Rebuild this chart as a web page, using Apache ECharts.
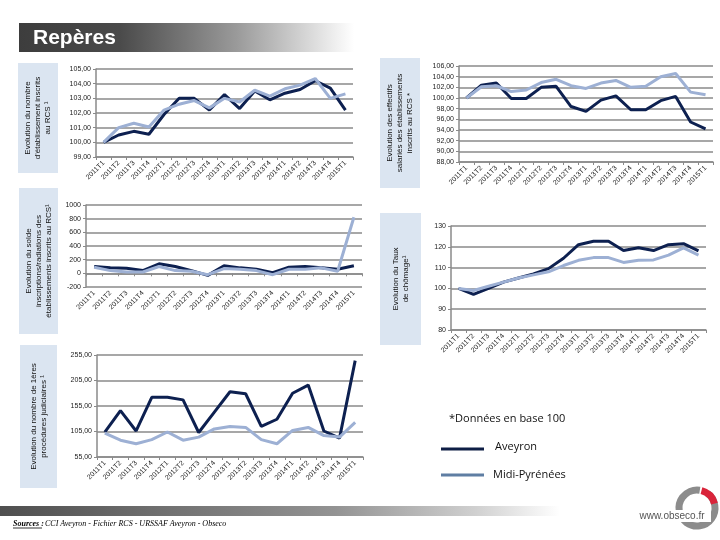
<!DOCTYPE html>
<html><head><meta charset="utf-8">
<script src="https://cdn.jsdelivr.net/npm/echarts@6/dist/echarts.min.js"></script>
<style>html,body{margin:0;padding:0;background:#fff}#c{width:720px;height:540px}</style>
</head><body><div id="c"></div>
<script>
var categories = ['2011T1','2011T2','2011T3','2011T4','2012T1','2012T2','2012T3','2012T4','2013T1','2013T2','2013T3','2013T4','2014T1','2014T2','2014T3','2014T4','2015T1'];

var etabAveyron = [100, 100.5, 100.75, 100.55, 101.9, 103.0, 103.0, 102.2, 103.25, 102.3, 103.5, 102.9, 103.35, 103.6, 104.2, 103.7, 102.2];
var etabMidi    = [100, 101.0, 101.3, 101.05, 102.2, 102.6, 102.85, 102.35, 103.0, 102.75, 103.55, 103.15, 103.65, 103.9, 104.35, 103.0, 103.3];

var effAveyron = [100, 102.4, 102.8, 99.9, 99.9, 102.0, 102.2, 98.4, 97.5, 99.6, 100.4, 97.8, 97.8, 99.5, 100.3, 95.5, 94.2];
var effMidi    = [100, 102.1, 102.3, 101.2, 101.5, 102.9, 103.5, 102.3, 101.8, 102.8, 103.3, 102.0, 102.2, 104.0, 104.6, 101.1, 100.6];

var soldeAveyron = [100, 80, 75, 40, 140, 100, 40, -30, 110, 80, 60, 10, 90, 100, 80, 60, 110];
var soldeMidi    = [90, 40, 20, 20, 100, 40, 30, -20, 70, 60, 40, -20, 60, 60, 80, 30, 820];

var chomAveyron = [100, 97.1, 100, 103, 105, 107, 109.5, 114.5, 121, 122.7, 122.7, 118.2, 119.5, 118.2, 121, 121.5, 118];
var chomMidi    = [100, 99, 101, 103, 105, 106.5, 108, 111, 113.5, 114.8, 114.8, 112.5, 113.5, 113.7, 116, 119.5, 116];

var procAveyron = [104, 146, 106, 172, 172, 167, 103, 143, 183, 179, 115, 129, 180, 196, 106, 92, 244];
var procMidi    = [102, 88, 81, 89, 104, 88, 94, 110, 115, 113, 89, 81, 107, 113, 97, 94, 123];

var yTicks1 = {min: 99, max: 105, interval: 1};
var yTicks2 = {min: 88, max: 106, interval: 2};
var yTicks3 = {min: -200, max: 1000, interval: 200};
var yTicks4 = {min: 80, max: 130, interval: 10};
var yTicks5 = {min: 55, max: 255, interval: 50};

var DARK = '#0d2050';
var LIGHT = '#9db0d4';
var GRIDC = '#8a8a8a';
var FONT = 'Liberation Sans';

var grids = [
  {left: 96, top: 69, width: 257, height: 88},
  {left: 459, top: 66, width: 254, height: 96},
  {left: 86, top: 205, width: 276, height: 82},
  {left: 451, top: 226, width: 255, height: 104},
  {left: 97, top: 355, width: 266, height: 102}
];
var yDefs = [yTicks1, yTicks2, yTicks3, yTicks4, yTicks5];
var fmt = [
  function(v){return v.toFixed(2).replace('.', ',');},
  function(v){return v.toFixed(2).replace('.', ',');},
  function(v){return String(v);},
  function(v){return String(v);},
  function(v){return v.toFixed(2).replace('.', ',');}
];
var data = [[etabAveyron, etabMidi],[effAveyron, effMidi],[soldeAveyron, soldeMidi],[chomAveyron, chomMidi],[procAveyron, procMidi]];

var xAxes = [], yAxes = [], series = [];
for (var i = 0; i < 5; i++) {
  xAxes.push({
    type: 'category', gridIndex: i, data: categories, boundaryGap: true,
    axisLine: {lineStyle: {color: GRIDC, width: 1.5}},
    axisTick: {show: true, length: 3, lineStyle: {color: GRIDC}},
    axisLabel: {rotate: 45, fontSize: 7, fontFamily: FONT, color: '#222', margin: 5, interval: 0}
  });
  yAxes.push({
    type: 'value', gridIndex: i, min: yDefs[i].min, max: yDefs[i].max, interval: yDefs[i].interval,
    axisLine: {show: true, lineStyle: {color: GRIDC, width: 1.5}},
    axisTick: {show: true, length: 3, lineStyle: {color: GRIDC}},
    splitLine: {show: true, lineStyle: {color: GRIDC, width: 1.5}},
    axisLabel: {fontSize: 7, fontFamily: FONT, color: '#222', margin: 5, formatter: fmt[i]}
  });
  series.push({type: 'line', xAxisIndex: i, yAxisIndex: i, data: data[i][0], symbol: 'none', lineStyle: {color: DARK, width: 3}, z: 3});
  series.push({type: 'line', xAxisIndex: i, yAxisIndex: i, data: data[i][1], symbol: 'none', lineStyle: {color: LIGHT, width: 3}, z: 4});
}

var BOX = '#dbe5f1';
function box(x, y, w, h, text) {
  return [
    {type: 'rect', shape: {x: x, y: y, width: w, height: h}, style: {fill: BOX}, z: 1},
    {type: 'text', x: x + w / 2, y: y + h / 2, rotation: Math.PI / 2, z: 2,
     style: {text: text, fontSize: 8, fontFamily: FONT, fill: '#111', align: 'center', verticalAlign: 'middle', lineHeight: 10}}
  ];
}

var graphic = [].concat(
  [{type: 'rect', shape: {x: 19, y: 23, width: 335, height: 29}, z: 1,
    style: {fill: new echarts.graphic.LinearGradient(0, 0, 1, 0, [
      {offset: 0, color: '#3d3d3d'}, {offset: 0.3, color: '#4a4a4a'}, {offset: 0.65, color: '#9a9a9a'}, {offset: 1, color: '#ffffff'}])}},
   {type: 'text', x: 33, y: 38, z: 2, style: {text: 'Repères', fontSize: 21, fontWeight: 'bold', fontFamily: 'Liberation Sans', fill: '#fff', verticalAlign: 'middle'}}],
  box(18, 63, 40, 110, "Evolution du nombre\nd'établissement inscrits\nau RCS ¹"),
  box(19, 188, 39, 146, "Evolution du solde\ninscriptions/radiations des\nétablissements inscrits au RCS¹"),
  box(20, 345, 37, 143, "Evolution du nombre de 1ères\nprocédures judiciaires ¹"),
  box(380, 58, 40, 130, "Evolution des effectifs\nsalariés des établissements\ninscrits au RCS *"),
  box(380, 213, 41, 132, "Evolution du Taux\nde chômage¹"),
  [{type: 'text', x: 449, y: 419, style: {text: '*Données en base 100', fontSize: 11, fontFamily: 'Open Sans', fill: '#111', verticalAlign: 'middle'}},
   {type: 'line', shape: {x1: 441, y1: 449, x2: 484, y2: 449}, style: {stroke: '#0e1e45', lineWidth: 3}},
   {type: 'text', x: 495, y: 447, style: {text: 'Aveyron', fontSize: 11, fontFamily: 'Open Sans', fill: '#111', verticalAlign: 'middle'}},
   {type: 'line', shape: {x1: 441, y1: 475, x2: 484, y2: 475}, style: {stroke: '#5f7ea3', lineWidth: 3}},
   {type: 'text', x: 493, y: 475, style: {text: 'Midi-Pyrénées', fontSize: 11, fontFamily: 'Open Sans', fill: '#111', verticalAlign: 'middle'}},
   {type: 'rect', shape: {x: 0, y: 506, width: 560, height: 10}, z: 1,
    style: {fill: new echarts.graphic.LinearGradient(0, 0, 1, 0, [
      {offset: 0, color: '#4f4f4f'}, {offset: 0.6, color: '#939393'}, {offset: 0.85, color: '#d0d0d0'}, {offset: 1, color: '#ffffff'}])}},
   {type: 'text', x: 13, y: 524, style: {text: 'Sources :', fontSize: 8, fontStyle: 'italic', fontWeight: 'bold', fontFamily: 'Liberation Serif', fill: '#000', verticalAlign: 'middle'}},
   {type: 'line', shape: {x1: 13, y1: 528, x2: 42, y2: 528}, style: {stroke: '#000', lineWidth: 0.8}},
   {type: 'text', x: 45, y: 524, style: {text: 'CCI Aveyron - Fichier RCS - URSSAF Aveyron - Obseco', fontSize: 8, fontStyle: 'italic', fontFamily: 'Liberation Serif', fill: '#000', verticalAlign: 'middle'}},
   {type: 'arc', shape: {cx: 697, cy: 508, r: 18, startAngle: -Math.PI * 0.3, endAngle: Math.PI * 1.55, clockwise: true}, style: {stroke: '#8c8c8c', lineWidth: 7, fill: null}},
   {type: 'arc', shape: {cx: 697, cy: 508, r: 18, startAngle: -Math.PI * 0.42, endAngle: -Math.PI * 0.08, clockwise: true}, style: {stroke: '#d9243a', lineWidth: 7, fill: null}, z: 3},
   {type: 'rect', shape: {x: 633, y: 510, width: 78, height: 12}, style: {fill: '#fff'}, z: 4},
   {type: 'text', x: 672, y: 516, z: 5, style: {text: 'www.obseco.fr', fontSize: 10, fontFamily: 'Liberation Sans', fill: '#555', align: 'center', verticalAlign: 'middle'}}]
);

var chart = echarts.init(document.getElementById('c'), null, {renderer: 'canvas'});
chart.setOption({
  animation: false,
  backgroundColor: '#fff',
  grid: grids,
  xAxis: xAxes,
  yAxis: yAxes,
  series: series,
  graphic: graphic
});
</script>
</body></html>
